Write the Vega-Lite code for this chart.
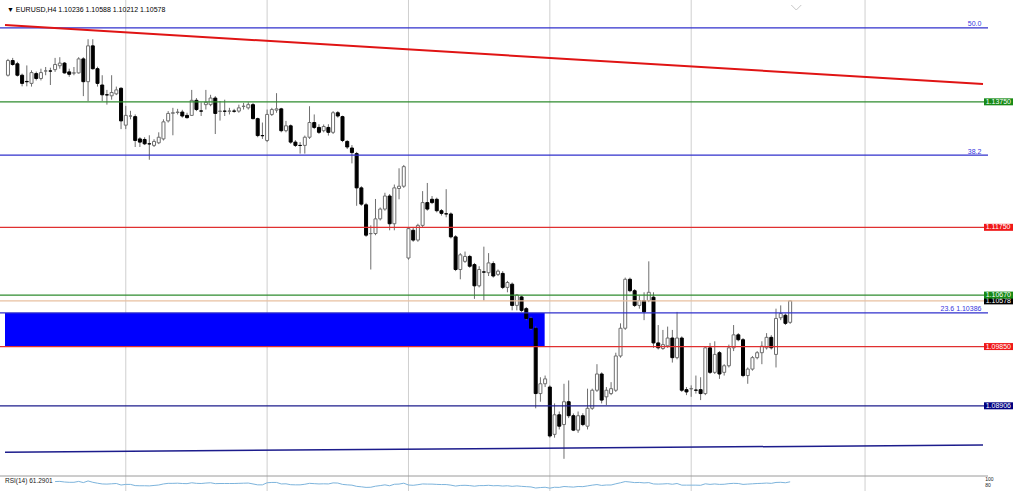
{
"$schema":"https://vega.github.io/schema/vega-lite/v6.json",
"width":988,"height":491,"autosize":{"type":"none"},"padding":{"left":0,"top":0,"right":36,"bottom":10},"background":"white",
"config":{"view":{"stroke":null},"font":"Liberation Sans","axis":{"labelFont":"Liberation Sans"},"text":{"font":"Liberation Sans"}},
"datasets":{
"candles":[
{"i":0,"o":1.14174,"h":1.14434,"l":1.14153,"c":1.14408},{"i":1,"o":1.14408,"h":1.1445,"l":1.14325,"c":1.14345},{"i":2,"o":1.14356,"h":1.14388,"l":1.14153,"c":1.14174},{"i":3,"o":1.14174,"h":1.142,"l":1.13997,"c":1.14044},{"i":4,"o":1.14075,"h":1.1433,"l":1.13997,"c":1.1407},{"i":5,"o":1.14044,"h":1.14252,"l":1.13993,"c":1.14216},{"i":6,"o":1.142,"h":1.14232,"l":1.14091,"c":1.14122},{"i":7,"o":1.14122,"h":1.14278,"l":1.14091,"c":1.14216},{"i":8,"o":1.14242,"h":1.14305,"l":1.14174,"c":1.14242},{"i":9,"o":1.14242,"h":1.14294,"l":1.14018,"c":1.1424},
{"i":10,"o":1.14263,"h":1.1445,"l":1.14227,"c":1.14345},{"i":11,"o":1.14325,"h":1.14461,"l":1.14278,"c":1.14367},{"i":12,"o":1.14367,"h":1.14383,"l":1.142,"c":1.14211},{"i":13,"o":1.14227,"h":1.14278,"l":1.14149,"c":1.14189},{"i":14,"o":1.14208,"h":1.14305,"l":1.14174,"c":1.14211},{"i":15,"o":1.14211,"h":1.14461,"l":1.142,"c":1.14434},{"i":16,"o":1.14434,"h":1.14461,"l":1.13841,"c":1.14071},{"i":17,"o":1.14071,"h":1.14747,"l":1.13763,"c":1.14642},{"i":18,"o":1.14642,"h":1.14747,"l":1.14263,"c":1.14278},{"i":19,"o":1.14278,"h":1.1431,"l":1.13993,"c":1.14044},
{"i":20,"o":1.14018,"h":1.14174,"l":1.13763,"c":1.13862},{"i":21,"o":1.13862,"h":1.1394,"l":1.13705,"c":1.1386},{"i":22,"o":1.13846,"h":1.14174,"l":1.13784,"c":1.13899},{"i":23,"o":1.13877,"h":1.13993,"l":1.13857,"c":1.1394},{"i":24,"o":1.13966,"h":1.13982,"l":1.13315,"c":1.13446},{"i":25,"o":1.13378,"h":1.13685,"l":1.13315,"c":1.13534},{"i":26,"o":1.13524,"h":1.13607,"l":1.13471,"c":1.13524},{"i":27,"o":1.13514,"h":1.13549,"l":1.1303,"c":1.13134},{"i":28,"o":1.13159,"h":1.13186,"l":1.1303,"c":1.13108},{"i":29,"o":1.1315,"h":1.13186,"l":1.13061,"c":1.13081},
{"i":30,"o":1.13081,"h":1.13217,"l":1.12827,"c":1.13079},{"i":31,"o":1.13056,"h":1.13154,"l":1.1303,"c":1.13119},{"i":32,"o":1.13097,"h":1.13264,"l":1.13076,"c":1.13186},{"i":33,"o":1.13159,"h":1.13471,"l":1.13134,"c":1.13431},{"i":34,"o":1.13446,"h":1.13602,"l":1.1342,"c":1.13565},{"i":35,"o":1.13568,"h":1.13654,"l":1.13217,"c":1.13576},{"i":36,"o":1.1358,"h":1.13638,"l":1.13549,"c":1.13587},{"i":37,"o":1.13587,"h":1.13623,"l":1.13498,"c":1.13524},{"i":38,"o":1.13534,"h":1.13576,"l":1.13482,"c":1.13498},{"i":39,"o":1.13534,"h":1.1394,"l":1.13524,"c":1.13774},
{"i":40,"o":1.13774,"h":1.1381,"l":1.13602,"c":1.13627},{"i":41,"o":1.13605,"h":1.13743,"l":1.13524,"c":1.13602},{"i":42,"o":1.13705,"h":1.1394,"l":1.13627,"c":1.13743},{"i":43,"o":1.13705,"h":1.13862,"l":1.1368,"c":1.1381},{"i":44,"o":1.1381,"h":1.13841,"l":1.13237,"c":1.13565},{"i":45,"o":1.13598,"h":1.13763,"l":1.13451,"c":1.13602},{"i":46,"o":1.13602,"h":1.13784,"l":1.13524,"c":1.136},{"i":47,"o":1.136,"h":1.13654,"l":1.13549,"c":1.13604},{"i":48,"o":1.13604,"h":1.13638,"l":1.13576,"c":1.136},{"i":49,"o":1.13602,"h":1.13705,"l":1.13576,"c":1.13654},
{"i":50,"o":1.13677,"h":1.13733,"l":1.13627,"c":1.1368},{"i":51,"o":1.13654,"h":1.13743,"l":1.13627,"c":1.13705},{"i":52,"o":1.13705,"h":1.13733,"l":1.13471,"c":1.13482},{"i":53,"o":1.13482,"h":1.13498,"l":1.13186,"c":1.13212},{"i":54,"o":1.13212,"h":1.1342,"l":1.13159,"c":1.1321},{"i":55,"o":1.13134,"h":1.13627,"l":1.13108,"c":1.13549},{"i":56,"o":1.13549,"h":1.13654,"l":1.13524,"c":1.13627},{"i":57,"o":1.13618,"h":1.13888,"l":1.13576,"c":1.13638},{"i":58,"o":1.13638,"h":1.13654,"l":1.13264,"c":1.1329},{"i":59,"o":1.1329,"h":1.13446,"l":1.13264,"c":1.13368},
{"i":60,"o":1.13368,"h":1.13389,"l":1.13081,"c":1.13108},{"i":61,"o":1.13108,"h":1.13139,"l":1.1303,"c":1.13056},{"i":62,"o":1.13056,"h":1.13108,"l":1.12925,"c":1.13054},{"i":63,"o":1.13056,"h":1.13212,"l":1.12925,"c":1.13186},{"i":64,"o":1.13186,"h":1.1368,"l":1.13159,"c":1.1342},{"i":65,"o":1.1342,"h":1.13549,"l":1.13315,"c":1.13342},{"i":66,"o":1.13342,"h":1.13393,"l":1.13237,"c":1.13264},{"i":67,"o":1.1329,"h":1.13389,"l":1.13264,"c":1.13357},{"i":68,"o":1.13342,"h":1.13393,"l":1.13212,"c":1.13264},{"i":69,"o":1.13264,"h":1.13602,"l":1.13237,"c":1.13576},
{"i":70,"o":1.13576,"h":1.13602,"l":1.13498,"c":1.13524},{"i":71,"o":1.13514,"h":1.13529,"l":1.13108,"c":1.13134},{"i":72,"o":1.13119,"h":1.13139,"l":1.12998,"c":1.1303},{"i":73,"o":1.13014,"h":1.13061,"l":1.12769,"c":1.12941},{"i":74,"o":1.12925,"h":1.12952,"l":1.12093,"c":1.12379},{"i":75,"o":1.12379,"h":1.12405,"l":1.12093,"c":1.1212},{"i":76,"o":1.12109,"h":1.1214,"l":1.11598,"c":1.11625},{"i":77,"o":1.11648,"h":1.11781,"l":1.11078,"c":1.11651},{"i":78,"o":1.11651,"h":1.12202,"l":1.11625,"c":1.11885},{"i":79,"o":1.11885,"h":1.12066,"l":1.11859,"c":1.12041},
{"i":80,"o":1.12041,"h":1.12301,"l":1.12015,"c":1.12249},{"i":81,"o":1.12249,"h":1.1228,"l":1.11703,"c":1.11807},{"i":82,"o":1.11807,"h":1.12432,"l":1.11703,"c":1.12379},{"i":83,"o":1.12369,"h":1.12691,"l":1.12197,"c":1.12405},{"i":84,"o":1.12405,"h":1.12744,"l":1.12379,"c":1.12717},{"i":85,"o":1.11261,"h":1.11754,"l":1.11234,"c":1.11729},{"i":86,"o":1.11703,"h":1.11754,"l":1.1152,"c":1.11547},{"i":87,"o":1.11547,"h":1.11807,"l":1.1152,"c":1.11781},{"i":88,"o":1.11781,"h":1.12327,"l":1.11754,"c":1.12144},{"i":89,"o":1.12144,"h":1.12457,"l":1.12015,"c":1.12041},
{"i":90,"o":1.12197,"h":1.12249,"l":1.1212,"c":1.12144},{"i":91,"o":1.12197,"h":1.12223,"l":1.11988,"c":1.12015},{"i":92,"o":1.12015,"h":1.12041,"l":1.11937,"c":1.11973},{"i":93,"o":1.11966,"h":1.12358,"l":1.1191,"c":1.11963},{"i":94,"o":1.11963,"h":1.11988,"l":1.11573,"c":1.11598},{"i":95,"o":1.11598,"h":1.11625,"l":1.11052,"c":1.11078},{"i":96,"o":1.11078,"h":1.11339,"l":1.10922,"c":1.11312},{"i":97,"o":1.11208,"h":1.11364,"l":1.11183,"c":1.11286},{"i":98,"o":1.11286,"h":1.11312,"l":1.11105,"c":1.1113},{"i":99,"o":1.11156,"h":1.11183,"l":1.1061,"c":1.10818},
{"i":100,"o":1.10818,"h":1.1113,"l":1.10793,"c":1.11078},{"i":101,"o":1.1104,"h":1.11442,"l":1.10583,"c":1.11036},{"i":102,"o":1.11027,"h":1.11339,"l":1.10974,"c":1.11183},{"i":103,"o":1.11172,"h":1.11208,"l":1.10949,"c":1.10974},{"i":104,"o":1.11,"h":1.11078,"l":1.10974,"c":1.11052},{"i":105,"o":1.11016,"h":1.11052,"l":1.10766,"c":1.10793},{"i":106,"o":1.10793,"h":1.10896,"l":1.10715,"c":1.10871},{"i":107,"o":1.10844,"h":1.10871,"l":1.10427,"c":1.10506},{"i":108,"o":1.10506,"h":1.10688,"l":1.10427,"c":1.10672},{"i":109,"o":1.10641,"h":1.10661,"l":1.10402,"c":1.10427},
{"i":110,"o":1.10454,"h":1.1048,"l":1.10271,"c":1.10298},{"i":111,"o":1.10298,"h":1.10324,"l":1.10115,"c":1.10142},{"i":112,"o":1.10142,"h":1.10168,"l":1.08866,"c":1.09101},{"i":113,"o":1.09101,"h":1.09361,"l":1.08971,"c":1.09257},{"i":114,"o":1.09257,"h":1.09388,"l":1.09205,"c":1.09335},{"i":115,"o":1.09205,"h":1.09232,"l":1.08398,"c":1.08425},{"i":116,"o":1.08451,"h":1.08944,"l":1.08398,"c":1.08763},{"i":117,"o":1.08763,"h":1.08815,"l":1.08529,"c":1.08581},{"i":118,"o":1.08607,"h":1.09257,"l":1.08061,"c":1.08971},{"i":119,"o":1.08971,"h":1.0931,"l":1.0871,"c":1.08748},
{"i":120,"o":1.08748,"h":1.08784,"l":1.08503,"c":1.08518},{"i":121,"o":1.08518,"h":1.08815,"l":1.08476,"c":1.08748},{"i":122,"o":1.08748,"h":1.08788,"l":1.08581,"c":1.08607},{"i":123,"o":1.08581,"h":1.09179,"l":1.08529,"c":1.08866},{"i":124,"o":1.08866,"h":1.09179,"l":1.08841,"c":1.09154},{"i":125,"o":1.09154,"h":1.09569,"l":1.09127,"c":1.09413},{"i":126,"o":1.09413,"h":1.09439,"l":1.08944,"c":1.08997},{"i":127,"o":1.09049,"h":1.09205,"l":1.08919,"c":1.09154},{"i":128,"o":1.09101,"h":1.09283,"l":1.09076,"c":1.09179},{"i":129,"o":1.09154,"h":1.09752,"l":1.09127,"c":1.097},
{"i":130,"o":1.097,"h":1.1022,"l":1.09673,"c":1.10142},{"i":131,"o":1.10142,"h":1.10949,"l":1.10115,"c":1.10922},{"i":132,"o":1.10922,"h":1.10949,"l":1.10715,"c":1.1074},{"i":133,"o":1.1074,"h":1.10766,"l":1.1048,"c":1.10506},{"i":134,"o":1.10506,"h":1.10661,"l":1.10454,"c":1.10583},{"i":135,"o":1.10583,"h":1.10715,"l":1.10271,"c":1.10402},{"i":136,"o":1.10583,"h":1.11208,"l":1.10558,"c":1.10715},{"i":137,"o":1.10637,"h":1.10715,"l":1.0983,"c":1.09908},{"i":138,"o":1.09908,"h":1.10193,"l":1.09803,"c":1.0983},{"i":139,"o":1.09819,"h":1.10115,"l":1.09798,"c":1.09881},
{"i":140,"o":1.09861,"h":1.10168,"l":1.0983,"c":1.09986},{"i":141,"o":1.09986,"h":1.10115,"l":1.09595,"c":1.09673},{"i":142,"o":1.09673,"h":1.10402,"l":1.09647,"c":1.09986},{"i":143,"o":1.09986,"h":1.10012,"l":1.09127,"c":1.09154},{"i":144,"o":1.09163,"h":1.09205,"l":1.09076,"c":1.09127},{"i":145,"o":1.09176,"h":1.09232,"l":1.09049,"c":1.09179},{"i":146,"o":1.09157,"h":1.09388,"l":1.09101,"c":1.09154},{"i":147,"o":1.09163,"h":1.09361,"l":1.08997,"c":1.09101},{"i":148,"o":1.09101,"h":1.09856,"l":1.09076,"c":1.0983},{"i":149,"o":1.0983,"h":1.09908,"l":1.09413,"c":1.09439},
{"i":150,"o":1.09439,"h":1.09934,"l":1.09413,"c":1.09725},{"i":151,"o":1.09752,"h":1.09778,"l":1.09335,"c":1.09413},{"i":152,"o":1.09439,"h":1.09569,"l":1.09388,"c":1.09544},{"i":153,"o":1.09544,"h":1.09881,"l":1.09517,"c":1.0983},{"i":154,"o":1.0983,"h":1.10193,"l":1.09778,"c":1.10037},{"i":155,"o":1.10037,"h":1.10064,"l":1.09934,"c":1.09959},{"i":156,"o":1.09959,"h":1.09986,"l":1.09361,"c":1.09388},{"i":157,"o":1.09388,"h":1.09517,"l":1.09257,"c":1.09491},{"i":158,"o":1.09491,"h":1.097,"l":1.09466,"c":1.09673},{"i":159,"o":1.09673,"h":1.09778,"l":1.09647,"c":1.09752},
{"i":160,"o":1.09752,"h":1.09934,"l":1.09569,"c":1.09856},{"i":161,"o":1.0983,"h":1.10064,"l":1.09803,"c":1.09997},{"i":162,"o":1.09997,"h":1.10032,"l":1.09803,"c":1.0983},{"i":163,"o":1.09725,"h":1.10454,"l":1.09517,"c":1.10298},{"i":164,"o":1.10309,"h":1.10506,"l":1.10271,"c":1.10376},{"i":165,"o":1.10349,"h":1.10376,"l":1.10193,"c":1.1022},{"i":166,"o":1.10236,"h":1.10588,"l":1.10212,"c":1.10578}
],
"rsi":[
{"i":10,"r":63},{"i":11,"r":64},{"i":12,"r":60},{"i":13,"r":58},{"i":14,"r":58},{"i":15,"r":64},{"i":16,"r":56},{"i":17,"r":67},{"i":18,"r":58},{"i":19,"r":52},{"i":20,"r":47},{"i":21,"r":46},{"i":22,"r":48},{"i":23,"r":50},{"i":24,"r":40},{"i":25,"r":44},{"i":26,"r":44},{"i":27,"r":36},{"i":28,"r":35},{"i":29,"r":35},{"i":30,"r":34},{"i":31,"r":37},{"i":32,"r":40},{"i":33,"r":47},{"i":34,"r":51},{"i":35,"r":51},{"i":36,"r":52},{"i":37,"r":50},{"i":38,"r":49},{"i":39,"r":55},{"i":40,"r":51},{"i":41,"r":50},{"i":42,"r":53},{"i":43,"r":55},{"i":44,"r":49},{"i":45,"r":50},{"i":46,"r":50},{"i":47,"r":50},{"i":48,"r":50},{"i":49,"r":51},{"i":50,"r":52},{"i":51,"r":53},{"i":52,"r":47},{"i":53,"r":41},{"i":54,"r":41},{"i":55,"r":55},{"i":56,"r":57},{"i":57,"r":57},{"i":58,"r":47},{"i":59,"r":48},{"i":60,"r":42},{"i":61,"r":41},{"i":62,"r":41},{"i":63,"r":45},{"i":64,"r":51},{"i":65,"r":49},{"i":66,"r":47},{"i":67,"r":48},{"i":68,"r":47},{"i":69,"r":54},{"i":70,"r":53},{"i":71,"r":44},{"i":72,"r":41},{"i":73,"r":39},{"i":74,"r":31},{"i":75,"r":28},{"i":76,"r":24},{"i":77,"r":25},{"i":78,"r":32},{"i":79,"r":36},{"i":80,"r":41},{"i":81,"r":35},{"i":82,"r":45},{"i":83,"r":46},{"i":84,"r":52},{"i":85,"r":40},{"i":86,"r":38},{"i":87,"r":42},{"i":88,"r":47},{"i":89,"r":46},{"i":90,"r":46},{"i":91,"r":44},{"i":92,"r":43},{"i":93,"r":43},{"i":94,"r":39},{"i":95,"r":33},{"i":96,"r":37},{"i":97,"r":38},{"i":98,"r":36},{"i":99,"r":32},{"i":100,"r":36},{"i":101,"r":36},{"i":102,"r":38},{"i":103,"r":35},{"i":104,"r":36},{"i":105,"r":33},{"i":106,"r":35},{"i":107,"r":31},{"i":108,"r":34},{"i":109,"r":31},{"i":110,"r":29},{"i":111,"r":27},{"i":112,"r":20},{"i":113,"r":23},{"i":114,"r":25},{"i":115,"r":19},{"i":116,"r":25},{"i":117,"r":24},{"i":118,"r":30},{"i":119,"r":28},{"i":120,"r":26},{"i":121,"r":30},{"i":122,"r":29},{"i":123,"r":34},{"i":124,"r":39},{"i":125,"r":43},{"i":126,"r":37},{"i":127,"r":40},{"i":128,"r":40},{"i":129,"r":48},{"i":130,"r":55},{"i":131,"r":63},{"i":132,"r":60},{"i":133,"r":56},{"i":134,"r":57},{"i":135,"r":54},{"i":136,"r":56},{"i":137,"r":47},{"i":138,"r":46},{"i":139,"r":47},{"i":140,"r":49},{"i":141,"r":45},{"i":142,"r":50},{"i":143,"r":39},{"i":144,"r":39},{"i":145,"r":39},{"i":146,"r":39},{"i":147,"r":38},{"i":148,"r":48},{"i":149,"r":44},{"i":150,"r":47},{"i":151,"r":44},{"i":152,"r":45},{"i":153,"r":49},{"i":154,"r":51},{"i":155,"r":50},{"i":156,"r":44},{"i":157,"r":46},{"i":158,"r":48},{"i":159,"r":50},{"i":160,"r":51},{"i":161,"r":53},{"i":162,"r":51},{"i":163,"r":57},{"i":164,"r":58},{"i":165,"r":55},{"i":166,"r":61.29}
],
"levels":[{"p":1.1493,"k":"fib"},{"p":1.129,"k":"fib"},{"p":1.10386,"k":"fib"},{"p":1.1375,"k":"green"},{"p":1.1067,"k":"green"},{"p":1.10578,"k":"bid"},{"p":1.1175,"k":"red"},{"p":1.0985,"k":"red"},{"p":1.08906,"k":"navy"}],
"boxes":[{"p":1.1375,"t":"1.13750","k":"green"},{"p":1.1175,"t":"1.11750","k":"red"},{"p":1.1067,"t":"1.10670","k":"green"},{"p":1.0985,"t":"1.09850","k":"red"},{"p":1.08906,"t":"1.08906","k":"navy"}]
},
"resolve":{"scale":{"y":"independent"}},
"layer":[
{"layer":[
{"data":{"values":[{"g":25},{"g":55},{"g":85},{"g":115},{"g":145},{"g":181.9}]},"mark":{"type":"rule","color":"#cfcfcf","strokeWidth":1},
 "encoding":{"x":{"field":"g","type":"quantitative","scale":{"domain":[-0.63,206.93],"nice":false,"zero":false},"axis":null}}},
{"data":{"values":[{}]},"mark":{"type":"rect","color":"#0000ff"},
 "encoding":{"x":{"datum":-0.63,"type":"quantitative","scale":{"domain":[-0.63,206.93],"nice":false,"zero":false},"axis":null},"x2":{"datum":113.9},
  "y":{"datum":1.10386,"type":"quantitative","scale":{"domain":[1.07628,1.15293],"nice":false,"zero":false},"axis":null},"y2":{"datum":1.0985}}},
{"data":{"name":"candles"},"mark":{"type":"rule","color":"#6e6e6e","strokeWidth":1},
 "encoding":{"x":{"field":"i","type":"quantitative","scale":{"domain":[-0.63,206.93],"nice":false,"zero":false},
   "axis":{"orient":"bottom","values":[0,11,23,35,47,59,71,83,95,107,119,131,143,154],"labelExpr":"['7 Feb 2022','9 Feb 16:00','11 Feb 16:00','15 Feb 16:00','17 Feb 16:00','21 Feb 16:00','23 Feb 16:00','25 Feb 16:00','1 Mar 16:00','3 Mar 16:00','7 Mar 16:00','9 Mar 16:00','11 Mar 16:00','15 Mar 12:00'][indexof([0,11,23,35,47,59,71,83,95,107,119,131,143,154], datum.value)]","labelAlign":"left","labelBaseline":"top","labelPadding":1,"ticks":false,"grid":false,"title":null,"domainColor":"#9a9a9a","labelFontSize":6.3,"labelColor":"#000000","labelOverlap":false,"labelFlush":false}},
  "y":{"field":"l","type":"quantitative","scale":{"domain":[1.07628,1.15293],"nice":false,"zero":false},
   "axis":{"orient":"right","values":[1.1495,1.145,1.14045,1.1359,1.1314,1.1269,1.1224,1.1179,1.1134,1.1089,1.10435,1.0998,1.0953,1.0908,1.0863,1.0818],"format":".5f","labelFontSize":7,"tickSize":2,"tickColor":"#9a9a9a","domainColor":"#9a9a9a","labelPadding":2,"grid":false,"title":null,"labelOverlap":false,"labelColor":"#000000"}},
  "y2":{"field":"h"}}},
{"data":{"name":"candles"},"mark":{"type":"bar","width":3,"strokeWidth":1},
 "encoding":{"x":{"field":"i","type":"quantitative","scale":{"domain":[-0.63,206.93],"nice":false,"zero":false},"axis":null},
  "y":{"field":"o","type":"quantitative","scale":{"domain":[1.07628,1.15293],"nice":false,"zero":false},"axis":null},"y2":{"field":"c"},
  "fill":{"condition":{"test":"datum.c < datum.o","value":"#000000"},"value":"#ffffff"},
  "stroke":{"condition":{"test":"datum.c < datum.o","value":"#000000"},"value":"#6e6e6e"}}},
{"data":{"name":"levels"},"mark":{"type":"rule","strokeWidth":1.2},
 "encoding":{"y":{"field":"p","type":"quantitative","scale":{"domain":[1.07628,1.15293],"nice":false,"zero":false},"axis":null},
  "color":{"field":"k","type":"nominal","scale":{"domain":["fib","green","bid","red","navy"],"range":["#3030cc","#2e8b2e","#e8c0a0","#e03030","#1c1c8c"]},"legend":null}}},
{"data":{"values":[{"i":-0.63,"p":1.14973},{"i":206.93,"p":1.14033}]},"mark":{"type":"line","color":"#e01414","strokeWidth":2},
 "encoding":{"x":{"field":"i","type":"quantitative","scale":{"domain":[-0.63,206.93],"nice":false,"zero":false},"axis":null},
  "y":{"field":"p","type":"quantitative","scale":{"domain":[1.07628,1.15293],"nice":false,"zero":false},"axis":null}}},
{"data":{"values":[{"i":-0.63,"p":1.08167},{"i":206.93,"p":1.08281}]},"mark":{"type":"line","color":"#1c1c8c","strokeWidth":1.5},
 "encoding":{"x":{"field":"i","type":"quantitative","scale":{"domain":[-0.63,206.93],"nice":false,"zero":false},"axis":null},
  "y":{"field":"p","type":"quantitative","scale":{"domain":[1.07628,1.15293],"nice":false,"zero":false},"axis":null}}},
{"data":{"values":[{"p":1.1493,"t":"50.0"},{"p":1.129,"t":"38.2"},{"p":1.10386,"t":"23.6 1.10386"}]},"mark":{"type":"text","align":"right","baseline":"bottom","dy":-0.5,"fontSize":7,"color":"#3535e0"},
 "encoding":{"x":{"datum":206.6,"type":"quantitative","scale":{"domain":[-0.63,206.93],"nice":false,"zero":false},"axis":null},
  "y":{"field":"p","type":"quantitative","scale":{"domain":[1.07628,1.15293],"nice":false,"zero":false},"axis":null},"text":{"field":"t"}}},
{"data":{"values":[{"p":1.10578,"t":"1.10578"}]},"mark":{"type":"bar","height":7,"color":"#000000"},
 "encoding":{"x":{"datum":207.14,"type":"quantitative","scale":{"domain":[-0.63,206.93],"nice":false,"zero":false},"axis":null},"x2":{"datum":213.3},
  "y":{"field":"p","type":"quantitative","scale":{"domain":[1.07628,1.15293],"nice":false,"zero":false},"axis":null}}},
{"data":{"values":[{"p":1.10578,"t":"1.10578"}]},"mark":{"type":"text","align":"left","baseline":"middle","fontSize":7,"color":"#ffffff"},
 "encoding":{"x":{"datum":207.5,"type":"quantitative","scale":{"domain":[-0.63,206.93],"nice":false,"zero":false},"axis":null},
  "y":{"field":"p","type":"quantitative","scale":{"domain":[1.07628,1.15293],"nice":false,"zero":false},"axis":null},"text":{"field":"t"}}},
{"data":{"name":"boxes"},"mark":{"type":"bar","height":7},
 "encoding":{"x":{"datum":207.14,"type":"quantitative","scale":{"domain":[-0.63,206.93],"nice":false,"zero":false},"axis":null},"x2":{"datum":213.3},
  "y":{"field":"p","type":"quantitative","scale":{"domain":[1.07628,1.15293],"nice":false,"zero":false},"axis":null},
  "fill":{"field":"k","type":"nominal","scale":{"domain":["green","red","navy"],"range":["#168a16","#f01818","#000080"]},"legend":null}}},
{"data":{"name":"boxes"},"mark":{"type":"text","align":"left","baseline":"middle","fontSize":7,"color":"#ffffff"},
 "encoding":{"x":{"datum":207.5,"type":"quantitative","scale":{"domain":[-0.63,206.93],"nice":false,"zero":false},"axis":null},
  "y":{"field":"p","type":"quantitative","scale":{"domain":[1.07628,1.15293],"nice":false,"zero":false},"axis":null},"text":{"field":"t"}}},
{"data":{"values":[{"t":"▼ EURUSD,H4  1.10236 1.10588 1.10212 1.10578"}]},"mark":{"type":"text","align":"left","baseline":"middle","fontSize":7,"dx":2,"color":"#000000"},
 "encoding":{"x":{"datum":-0.63,"type":"quantitative","scale":{"domain":[-0.63,206.93],"nice":false,"zero":false},"axis":null},
  "y":{"datum":1.15215,"type":"quantitative","scale":{"domain":[1.07628,1.15293],"nice":false,"zero":false},"axis":null},"text":{"field":"t"}}},
{"data":{"values":[{}]},"mark":{"type":"point","shape":"M-1,0L0,1L1,0","size":100,"filled":false,"color":"#b0b0b0","strokeWidth":1},
 "encoding":{"x":{"datum":167.3,"type":"quantitative","scale":{"domain":[-0.63,206.93],"nice":false,"zero":false},"axis":null},
  "y":{"datum":1.15293,"type":"quantitative","scale":{"domain":[1.07628,1.15293],"nice":false,"zero":false},"axis":null}}}
]},
{"layer":[
{"data":{"values":[{}]},"mark":{"type":"rule","color":"#9a9a9a","strokeWidth":1},
 "encoding":{"y":{"datum":100,"type":"quantitative","scale":{"domain":[0,100],"range":[491,476],"nice":false,"zero":false},"axis":null}}},
{"data":{"name":"rsi"},"mark":{"type":"line","color":"#7db4dc","strokeWidth":1},
 "encoding":{"x":{"field":"i","type":"quantitative","scale":{"domain":[-0.63,206.93],"nice":false,"zero":false},"axis":null},
  "y":{"field":"r","type":"quantitative","scale":{"domain":[0,100],"range":[491,476],"nice":false,"zero":false},"axis":null}}},
{"data":{"values":[{"t":"RSI(14) 61.2901"}]},"mark":{"type":"text","align":"left","baseline":"middle","fontSize":6.5,"dx":0,"color":"#202020"},
 "encoding":{"x":{"datum":-0.63,"type":"quantitative","scale":{"domain":[-0.63,206.93],"nice":false,"zero":false},"axis":null},
  "y":{"datum":67,"type":"quantitative","scale":{"domain":[0,100],"range":[491,476],"nice":false,"zero":false},"axis":null},"text":{"field":"t"}}},
{"data":{"values":[{"v":100,"t":"100"}]},"mark":{"type":"text","align":"left","baseline":"middle","fontSize":5,"dy":2.5,"color":"#202020"},
 "encoding":{"x":{"datum":207.4,"type":"quantitative","scale":{"domain":[-0.63,206.93],"nice":false,"zero":false},"axis":null},
  "y":{"field":"v","type":"quantitative","scale":{"domain":[0,100],"range":[491,476],"nice":false,"zero":false},"axis":null},"text":{"field":"t"}}},
{"data":{"values":[{"v":80,"t":"80"}]},"mark":{"type":"text","align":"left","baseline":"middle","fontSize":5,"dy":6,"color":"#202020"},
 "encoding":{"x":{"datum":207.4,"type":"quantitative","scale":{"domain":[-0.63,206.93],"nice":false,"zero":false},"axis":null},
  "y":{"field":"v","type":"quantitative","scale":{"domain":[0,100],"range":[491,476],"nice":false,"zero":false},"axis":null},"text":{"field":"t"}}}
]}
]
}
